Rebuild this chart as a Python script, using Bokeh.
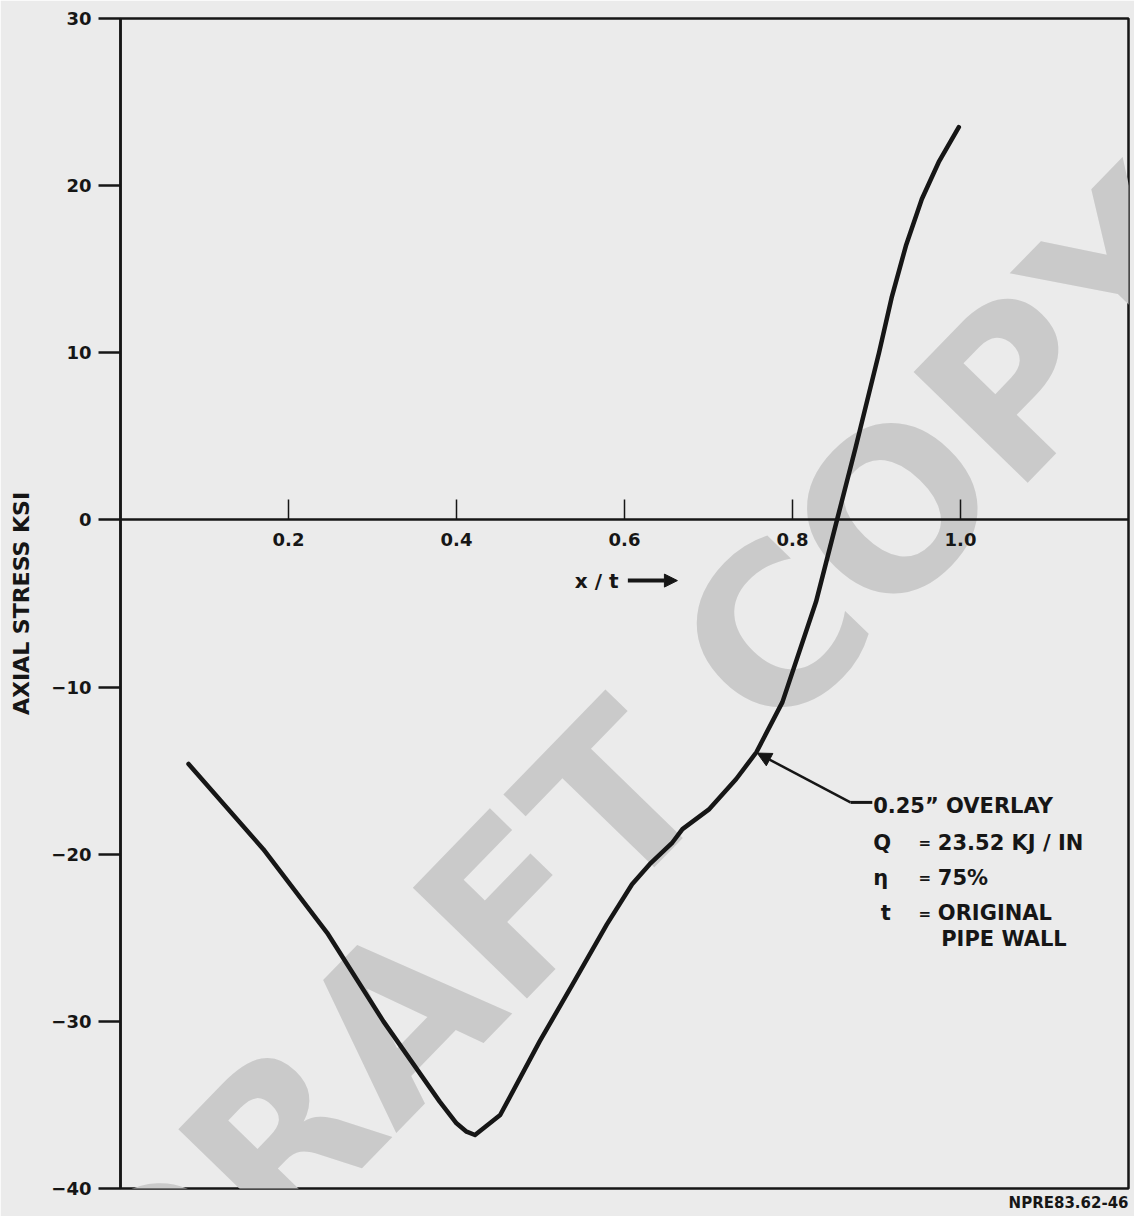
from bokeh.plotting import figure
from bokeh.models import (LinearAxis, FixedTicker, Range1d, Arrow, NormalHead, Label, Title)
from bokeh.embed import file_html
from bokeh.resources import INLINE

# ---- data ----
x_over_t = [0.081, 0.170, 0.246, 0.313, 0.380, 0.400, 0.412, 0.422, 0.452, 0.499,
            0.538, 0.579, 0.609, 0.630, 0.657, 0.669, 0.701, 0.733, 0.757, 0.788,
            0.828, 0.853, 0.875, 0.903, 0.918, 0.935, 0.954, 0.974, 0.998]
axial_stress = [-14.6, -19.7, -24.7, -30.0, -34.8, -36.1, -36.6, -36.8, -35.6, -31.2,
                -27.8, -24.2, -21.8, -20.6, -19.3, -18.5, -17.3, -15.5, -13.9, -10.9,
                -4.9, 0.0, 4.3, 10.0, 13.3, 16.4, 19.2, 21.4, 23.5]

x_ticks = [0.2, 0.4, 0.6, 0.8, 1.0]
x_tick_labels = ["0.2", "0.4", "0.6", "0.8", "1.0"]
y_ticks = [-40, -30, -20, -10, 0, 10, 20, 30]
y_tick_labels = ["\u221240", "\u221230", "\u221220", "\u221210", "0", "10", "20", "30"]

note_symbols = ["Q", "\u03b7", "t"]
note_values = ["23.52  KJ / IN", "75%", "ORIGINAL"]
note_title = "0.25\u201d  OVERLAY"
note_last = "PIPE  WALL"
doc_id = "NPRE83.62-46"
watermark = "DRAFT COPY"

BG = "#ebebeb"
INK = "#161616"
WM = "#cacaca"
FONT = "DejaVu Sans"

p = figure(width=1134, height=1216,
           x_range=Range1d(0, 1.2), y_range=Range1d(-40, 30),
           output_backend="svg", toolbar_location=None,
           x_axis_location=None,
           min_border_left=120, min_border_right=6,
           min_border_top=18, min_border_bottom=28,
           background_fill_color=BG, border_fill_color=BG,
           outline_line_color=INK, outline_line_width=2.5)
p.xgrid.visible = False
p.ygrid.visible = False

# left axis
ya = p.yaxis[0]
ya.ticker = FixedTicker(ticks=y_ticks)
ya.major_label_overrides = dict(zip(y_ticks, y_tick_labels))
ya.major_tick_out = 22
ya.major_tick_in = 0
ya.minor_tick_out = 0
ya.minor_tick_in = 0
ya.axis_line_color = INK
ya.axis_line_width = 2.5
ya.major_tick_line_color = INK
ya.major_tick_line_width = 2.5
ya.major_label_text_font = FONT
ya.major_label_text_font_style = "bold"
ya.major_label_text_font_size = "18px"
ya.major_label_text_color = INK
ya.major_label_standoff = 7
ya.axis_label = "AXIAL STRESS KSI"
ya.axis_label_text_font = FONT
ya.axis_label_text_font_style = "bold"
ya.axis_label_text_font_size = "22px"
ya.axis_label_text_color = INK
ya.axis_label_standoff = 14

# x axis drawn at y = 0 (label padded so "x / t" sits left of the arrow)
xa = LinearAxis(fixed_location=0, ticker=FixedTicker(ticks=x_ticks),
                major_label_overrides=dict(zip(x_ticks, x_tick_labels)),
                major_tick_in=20, major_tick_out=0,
                minor_tick_in=0, minor_tick_out=0,
                axis_line_color=INK, axis_line_width=2.5,
                major_tick_line_color=INK, major_tick_line_width=1.5,
                major_label_text_font=FONT, major_label_text_font_style="bold",
                major_label_text_font_size="18px", major_label_text_color=INK,
                major_label_standoff=13,
                axis_label="x / t" + "\u00a0" * 8, axis_label_text_font=FONT,
                axis_label_text_font_style="bold", axis_label_text_font_size="20px",
                axis_label_text_color=INK, axis_label_standoff=20)
p.add_layout(xa, "below")
p.add_layout(Arrow(end=NormalHead(size=13, fill_color=INK, line_color=INK),
                   x_start=0.604, y_start=-3.63, x_end=0.663, y_end=-3.63,
                   line_color=INK, line_width=4))

# document number under the frame, right aligned
p.add_layout(Title(text=doc_id, align="right", text_font=FONT, text_font_style="bold",
                   text_font_size="15px", text_color=INK, standoff=6), "below")

# watermark (underneath the curve)
p.add_layout(Label(x=0.618, y=-15.2, text=watermark, angle=0.80,
                   text_align="center", text_baseline="middle",
                   text_font=FONT, text_font_style="bold",
                   text_font_size="218px", text_color=WM, level="underlay"))

# curve
p.line(x_over_t, axial_stress, line_color=INK, line_width=4.5, line_join="round",
       line_cap="round")

# leader + arrow
p.add_layout(Arrow(end=NormalHead(size=14, fill_color=INK, line_color=INK),
                   x_start=0.869, y_start=-16.9, x_end=0.758, y_end=-13.95,
                   line_color=INK, line_width=2.5))
p.add_layout(Arrow(end=None, x_start=0.869, y_start=-16.9, x_end=0.895, y_end=-16.9,
                   line_color=INK, line_width=3))

def lab(x, y, t, size="21px", align="left"):
    p.add_layout(Label(x=x, y=y, text=t, text_align=align, text_baseline="middle",
                       text_font=FONT, text_font_style="bold",
                       text_font_size=size, text_color=INK))

lab(0.896, -17.1, note_title)
rows_y = [-19.3, -21.4, -23.5]
for sym, val, yy in zip(note_symbols, note_values, rows_y):
    lab(0.896 if sym != "t" else 0.905, yy, sym)
    lab(0.950, yy - 0.05, "=", size="15px")
    lab(0.973, yy, val)
lab(0.977, -25.05, note_last)

open("out.html", "w").write(file_html(p, INLINE))
